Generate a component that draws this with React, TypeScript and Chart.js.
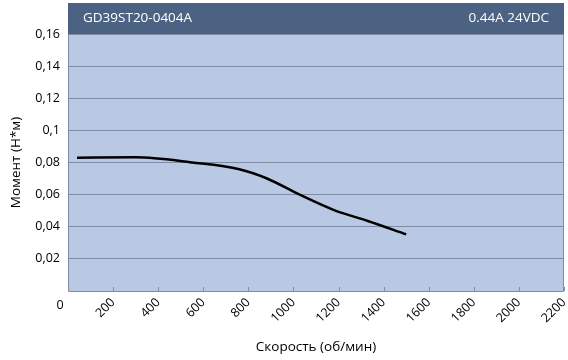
import React, { useEffect, useRef } from "react";
import { Chart, registerables } from "chart.js";

Chart.register(...registerables);

const titleLeft = "GD39ST20-0404A";
const titleRight = "0.44A 24VDC";
const xTitle = "Скорость (об/мин)";
const yTitle = "Момент (Н*м)";
const speed = [40, 300, 550, 760, 880, 1030, 1180, 1330, 1500];
const torque = [0.083, 0.0832, 0.08, 0.0758, 0.0702, 0.0598, 0.0504, 0.0436, 0.0353];
const xMax = 2200;
const xStep = 200;
const yMax = 0.16;
const yStep = 0.02;

const FONT = "'Open Sans', sans-serif";

const decorPlugin = {
  id: "decor",
  beforeDraw(chart: any) {
    const { ctx, chartArea } = chart;
    const { left, right, top, bottom } = chartArea;
    ctx.save();
    ctx.fillStyle = "#b9c9e3";
    ctx.fillRect(left, top, right - left, bottom - top);
    ctx.restore();
  },
  afterDraw(chart: any) {
    const { ctx, chartArea, scales } = chart;
    const { left, right, top, bottom } = chartArea;
    ctx.save();
    // header
    ctx.fillStyle = "#4b6282";
    ctx.fillRect(left, 3, right - left, top - 3);
    ctx.fillStyle = "#ffffff";
    ctx.font = `13.5px ${FONT}`;
    ctx.textBaseline = "middle";
    ctx.textAlign = "left";
    ctx.fillText(titleLeft, left + 15, (3 + top) / 2);
    ctx.textAlign = "right";
    ctx.fillText(titleRight, right - 15, (3 + top) / 2);
    // borders
    ctx.strokeStyle = "#7f8ea6";
    ctx.lineWidth = 1;
    ctx.beginPath();
    ctx.moveTo(left + 0.5, top);
    ctx.lineTo(left + 0.5, bottom + 0.5);
    ctx.lineTo(right - 0.5, bottom + 0.5);
    ctx.lineTo(right - 0.5, top);
    ctx.stroke();
    // inner tick marks
    const xs = scales.x;
    ctx.beginPath();
    for (let v = xStep; v <= xMax; v += xStep) {
      const px = Math.round(xs.getPixelForValue(v)) + 0.5;
      ctx.moveTo(px, bottom);
      ctx.lineTo(px, bottom - 4);
    }
    ctx.stroke();
    // the unrotated zero label
    ctx.fillStyle = "#000000";
    ctx.font = `12.5px ${FONT}`;
    ctx.textAlign = "center";
    ctx.textBaseline = "middle";
    ctx.fillText("0", xs.getPixelForValue(0) - 8, bottom + 14);
    ctx.restore();
  },
};

export default function App() {
  const ref = useRef<HTMLCanvasElement>(null);
  useEffect(() => {
    document.body.style.margin = "0";
    const chart = new Chart(ref.current!, {
      type: "scatter",
      data: {
        datasets: [
          {
            data: speed.map((s, i) => ({ x: s, y: torque[i] })),
            showLine: true,
            borderColor: "#000000",
            borderWidth: 2.5,
            pointRadius: 0,
            cubicInterpolationMode: "monotone",
            fill: false,
          },
        ],
      },
      options: {
        animation: false,
        responsive: false,
        maintainAspectRatio: false,
        layout: { padding: { top: 34, right: 4, left: 0, bottom: 0 } },
        plugins: { legend: { display: false }, tooltip: { enabled: false } },
        scales: {
          x: {
            type: "linear",
            min: 0,
            max: xMax,
            afterFit(s: any) {
              s.height = 69;
              s.paddingRight = 0;
              s.paddingLeft = 0;
            },
            ticks: {
              stepSize: xStep,
              minRotation: 45,
              maxRotation: 45,
              color: "#000",
              font: { family: FONT, size: 12.5 },
              padding: 4,
              callback: (v: any) => (v === 0 ? "" : String(v)),
            },
            grid: { display: false, drawTicks: false },
            border: { display: false },
            title: {
              display: true,
              text: xTitle,
              color: "#000",
              font: { family: FONT, size: 13.5 },
              padding: { top: 0, bottom: 5 },
            },
          },
          y: {
            min: 0,
            max: yMax,
            afterFit(s: any) {
              s.width = 68;
            },
            ticks: {
              stepSize: yStep,
              color: "#000",
              font: { family: FONT, size: 12.5 },
              padding: 8,
              callback: (v: any) =>
                v === 0 ? "" : String(Math.round(v * 100) / 100).replace(".", ","),
            },
            grid: {
              color: (c: any) => (c.tick && c.tick.value === 0 ? "rgba(0,0,0,0)" : "#7d8ca4"),
              drawTicks: false,
            },
            border: { display: false },
            title: {
              display: true,
              text: yTitle,
              color: "#000",
              font: { family: FONT, size: 13.5 },
              padding: { top: 8, bottom: 4 },
            },
          },
        },
      },
      plugins: [decorPlugin],
    });
    return () => chart.destroy();
  }, []);
  return <canvas ref={ref} width={568} height={360} style={{ display: "block" }} />;
}
